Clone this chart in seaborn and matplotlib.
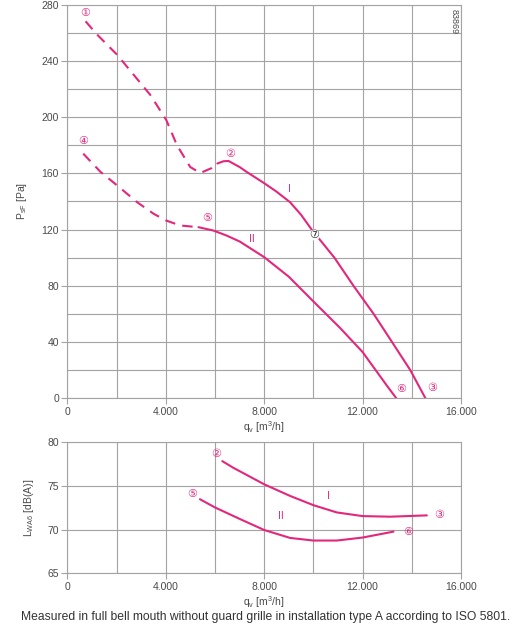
import matplotlib
matplotlib.use('Agg')
import matplotlib.pyplot as plt
from matplotlib.ticker import FuncFormatter, MultipleLocator
import seaborn as sns
import pandas as pd

# curve I (pressure), dashed part and solid part
q1_dash = [742, 1215, 2025, 2700, 3375, 4023, 4455, 4995, 5400, 5873, 6100]
p1_dash = [268.1, 258.6, 244.3, 230, 215.7, 197.9, 180, 164.5, 160.2, 163.8, 167]
q1_solid = [6100, 6350, 6550, 7000, 7290, 8000, 8500, 9050, 9500, 9930, 10855, 11630, 12450, 13197, 13940, 14555]
p1_solid = [167, 168.6, 168.8, 164.5, 161, 153, 147, 139.5, 130.5, 120, 100, 80, 60, 40, 20, 0]

# curve II (pressure)
q2_dash = [648, 1350, 2025, 2835, 3510, 4023, 4590, 5330]
p2_dash = [174, 161, 151.4, 139.5, 131.2, 126.4, 122.9, 121.7]
q2_solid = [5330, 5940, 6480, 7007, 8000, 9000, 10000, 11087, 12000, 13000, 13372]
p2_solid = [121.7, 119.3, 115.7, 111.5, 100.4, 86.5, 68.9, 50, 32.9, 8.7, 0]

# sound power curves
q1_snd = [6298, 6746, 8000, 9051, 10000, 10949, 11994, 13119, 14611]
l1_snd = [77.84, 77.08, 75.19, 73.86, 72.80, 71.97, 71.55, 71.48, 71.63]
q2_snd = [5390, 6000, 7017, 8000, 9051, 10000, 10949, 11994, 13255]
l2_snd = [73.48, 72.54, 71.21, 69.96, 69.05, 68.75, 68.75, 69.09, 69.77]

# point labels
top_marks = ['①', '②', '③', '④', '⑤', '⑥']
top_mx = [715, 6610, 14848, 635, 5690, 13566]
top_my = [274, 173.7, 7.3, 183, 128, 6.9]
bot_marks = ['②', '③', '⑤', '⑥']
bot_mx = [6060, 15125, 5090, 13835]
bot_my = [78.6, 71.67, 74.1, 69.77]

pink = '#e3277b'
grey = '#a3a3a3'
txt = '#4a4a4a'

sns.set_style('white')
plt.rcParams['font.family'] = ['Liberation Sans', 'DejaVu Sans']
plt.rcParams['mathtext.fontset'] = 'custom'
plt.rcParams['mathtext.rm'] = 'Liberation Sans'

fig = plt.figure(figsize=(5.23, 6.37), dpi=100)
ax1 = fig.add_axes([0.1287, 0.3747, 0.7528, 0.6181])
ax2 = fig.add_axes([0.1287, 0.1, 0.7528, 0.2057])

fmt = FuncFormatter(lambda v, p: f'{int(v):,}'.replace(',', '.'))


def line(ax, q, v, dashed=False):
    d = pd.DataFrame({'q': q, 'v': v})
    sns.lineplot(data=d, x='q', y='v', ax=ax, sort=False, estimator=None,
                 color=pink, linewidth=1.5,
                 linestyle=(0, (5, 3.5)) if dashed else '-')


line(ax1, q1_dash, p1_dash, True)
line(ax1, q1_solid, p1_solid)
line(ax1, q2_dash, p2_dash, True)
line(ax1, q2_solid, p2_solid)
line(ax2, q1_snd, l1_snd)
line(ax2, q2_snd, l2_snd)

for ax in (ax1, ax2):
    ax.set_xlim(0, 16000)
    ax.xaxis.set_major_locator(MultipleLocator(4000))
    ax.xaxis.set_minor_locator(MultipleLocator(2000))
    ax.xaxis.set_major_formatter(fmt)
    ax.grid(True, which='both', color=grey, linewidth=0.8)
    ax.set_axisbelow(True)
    for s in ax.spines.values():
        s.set_color(grey)
        s.set_linewidth(0.8)
    ax.tick_params(which='major', length=4, width=0.8, color=grey,
                   labelsize=7.5, labelcolor=txt, pad=2)
    ax.tick_params(which='minor', length=0)
    ax.tick_params(axis='x', which='major', direction='out', bottom=True)
    ax.tick_params(axis='y', which='major', direction='out', left=True)
    ax.set_xlabel(r'q$_\mathregular{v}$ [m$^\mathregular{3}$/h]', fontsize=7.5, color=txt, labelpad=2)

ax1.set_ylim(0, 280)
ax1.yaxis.set_major_locator(MultipleLocator(40))
ax1.yaxis.set_minor_locator(MultipleLocator(20))
ax1.set_ylabel(r'P$_\mathregular{sF}$ [Pa]', fontsize=7.5, color=txt)
ax1.yaxis.set_label_coords(-0.097, 0.5)

ax2.set_ylim(65, 80)
ax2.yaxis.set_major_locator(MultipleLocator(5))
ax2.set_ylabel(r'L$_\mathregular{WA6}$ [dB(A)]', fontsize=7.5, color=txt)
ax2.yaxis.set_label_coords(-0.0795, 0.5)

for m, x, y in zip(top_marks, top_mx, top_my):
    ax1.text(x, y, m, color=pink, fontsize=8, ha='center', va='center', family=['DejaVu Sans'])
for m, x, y in zip(bot_marks, bot_mx, bot_my):
    ax2.text(x, y, m, color=pink, fontsize=8, ha='center', va='center', family=['DejaVu Sans'])

ax1.text(10048, 116.2, '⑦', color='#222222', fontsize=8, ha='center', va='center',
         family=['DejaVu Sans'], bbox=dict(boxstyle='circle,pad=0.05', fc='white', ec='none'))
ax1.text(9040, 149, 'I', color=pink, fontsize=7.5, ha='center', va='center')
ax1.text(7500, 113, 'II', color=pink, fontsize=7.5, ha='center', va='center')
ax2.text(10610, 73.9, 'I', color=pink, fontsize=7.5, ha='center', va='center')
ax2.text(8680, 71.6, 'II', color=pink, fontsize=7.5, ha='center', va='center')
ax1.text(15720, 268, '83869', rotation=270, color=txt, fontsize=6.5, ha='center', va='center')

fig.text(0.507, 0.031, 'Measured in full bell mouth without guard grille in installation type A according to ISO 5801.',
         ha='center', va='center', fontsize=8.7, color='#333333')

fig.savefig('out.png', dpi=100)
